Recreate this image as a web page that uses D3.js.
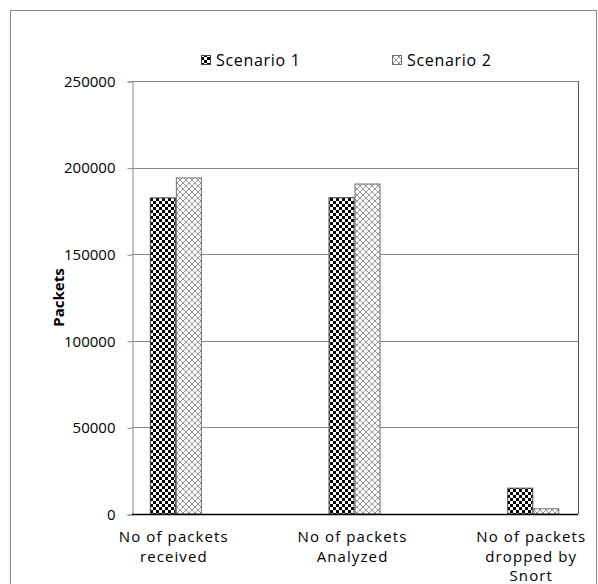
<!DOCTYPE html>
<html><head><meta charset="utf-8">
<script src="https://cdn.jsdelivr.net/npm/d3@7"></script>
<style>body{margin:0;background:#fff}svg{display:block}text{font-family:"Open Sans",sans-serif;fill:#000}</style>
</head><body><svg id="c" width="598" height="584"></svg>
<script>
const categories = [["No of packets","received"],["No of packets","Analyzed"],["No of packets","dropped by","Snort"]];
const seriesNames = ["Scenario 1","Scenario 2"];
const scenario1 = [182800, 182900, 15200];
const scenario2 = [194300, 190800, 3300];
const yTicks = [0, 50000, 100000, 150000, 200000, 250000];
const yLabel = "Packets";

const svg = d3.select("#c");
const defs = svg.append("defs");
const p1 = defs.append("pattern").attr("id","pat1").attr("patternUnits","userSpaceOnUse").attr("width",6).attr("height",6);
p1.append("rect").attr("width",6).attr("height",6).attr("fill","#fff");
p1.append("rect").attr("width",3).attr("height",3).attr("fill","#000");
p1.append("rect").attr("x",3).attr("y",3).attr("width",3).attr("height",3).attr("fill","#000");
const p2 = defs.append("pattern").attr("id","pat2").attr("patternUnits","userSpaceOnUse").attr("width",6).attr("height",6);
p2.append("rect").attr("width",6).attr("height",6).attr("fill","#fff");
p2.append("path").attr("d","M0,0L6,6M6,0L0,6M-1,5L1,7M5,-1L7,1M-1,1L1,-1M5,7L7,5").attr("stroke","#999").attr("stroke-width",1);

svg.append("rect").attr("x",10.5).attr("y",10.5).attr("width",586).attr("height",600).attr("fill","none").attr("stroke","#8c8c8c");

const plot = {left:132, right:578, top:81, bottom:514};
const y = d3.scaleLinear().domain([0,250000]).range([plot.bottom, plot.top]);
const x0 = d3.scaleBand().domain(d3.range(categories.length)).range([86.5, 622.6]).padding(0);
const x1 = d3.scaleBand().domain(seriesNames).range([-26, 26]).padding(0);

svg.append("g").selectAll("line").data(yTicks.filter(d=>d>0)).join("line")
  .attr("x1",plot.left).attr("x2",plot.right)
  .attr("y1",d=>Math.round(y(d))+0.5).attr("y2",d=>Math.round(y(d))+0.5)
  .attr("stroke","#8a8a8a");
svg.append("line").attr("x1",plot.right+0.5).attr("x2",plot.right+0.5).attr("y1",plot.top).attr("y2",plot.bottom).attr("stroke","#555");

const yAxis = d3.axisLeft(y).tickValues(yTicks).tickSize(5).tickPadding(12).tickFormat(d3.format("d"));
const ga = svg.append("g").attr("transform",`translate(${plot.left+0.5},0.5)`).call(yAxis);
ga.select(".domain").attr("stroke","#8a8a8a");
ga.selectAll(".tick line").attr("stroke","#8a8a8a");
ga.selectAll(".tick text").attr("font-size",15).attr("font-family","Open Sans").attr("fill","#000");

const data = [scenario1, scenario2];
const fills = ["url(#pat1)","url(#pat2)"];
const strokes = ["#404040","#6e6e6e"];
seriesNames.forEach((s,si)=>{
  svg.append("g").selectAll("rect").data(data[si]).join("rect")
    .attr("x",(d,i)=>x0(i)+x0.bandwidth()/2+x1(s)+0.5)
    .attr("width",x1.bandwidth()-1)
    .attr("y",d=>y(d)+0.5)
    .attr("height",d=>y(0)-y(d)-0.5)
    .attr("fill",fills[si]).attr("stroke",strokes[si]).attr("stroke-width",1);
});

svg.append("line").attr("x1",plot.left).attr("x2",plot.right).attr("y1",plot.bottom+0.5).attr("y2",plot.bottom+0.5).attr("stroke","#000").attr("stroke-width",1.5);

categories.forEach((lines,i)=>{
  lines.forEach((l,j)=>svg.append("text").attr("text-anchor","middle").attr("font-size",15).attr("letter-spacing",1.1)
    .attr("x",x0(i)+x0.bandwidth()/2-2).attr("y",542+j*19.5).text(l));
});

svg.append("text").attr("transform",`translate(64,${(plot.top+plot.bottom)/2}) rotate(-90)`)
  .attr("text-anchor","middle").attr("font-size",15).attr("font-weight","bold").text(yLabel);

const legX = [201, 392];
seriesNames.forEach((s,si)=>{
  svg.append("rect").attr("x",legX[si]+0.5).attr("y",55.5).attr("width",9).attr("height",9)
    .attr("fill",fills[si]).attr("stroke",strokes[si]);
  svg.append("text").attr("x",legX[si]+15).attr("y",66).attr("font-size",16).attr("letter-spacing",0.7).text(s);
});
</script></body></html>
